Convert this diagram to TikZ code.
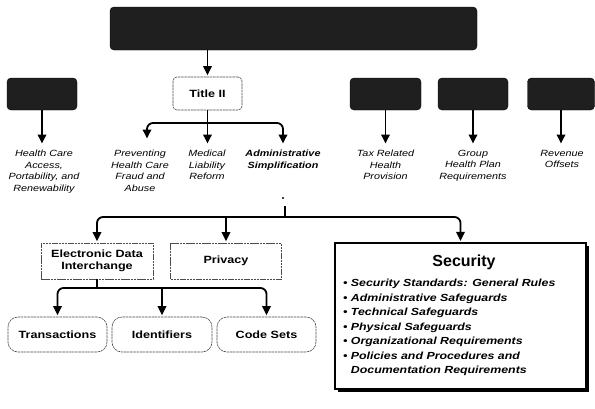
\documentclass[tikz,border=0pt]{standalone}
\usepackage{fontspec}
\setmainfont{Liberation Sans}
\newfontfamily\labfont[FakeStretch=1.2]{Liberation Sans}
\usetikzlibrary{arrows.meta}
\tikzset{
  blackbox/.style={fill=black!88, draw=black, rounded corners=4pt, inner sep=0pt},
  thinbox/.style={draw=black!70, fill=white, line width=0.6pt, dash pattern=on 2.5pt off 0.7pt,
    inner sep=0pt, align=center, font=\labfont\bfseries\fontsize{10.5}{11.5}\selectfont},
  lab/.style={font=\labfont\itshape\fontsize{9}{11.7}\selectfont, align=center,
    inner sep=0pt, outer ysep=5pt, anchor=north},
  arr/.style={line width=1.8pt, -{Triangle[width=8.5pt,length=9pt]}, rounded corners=6pt, shorten >=1.5pt},
  conn/.style={line width=1.8pt},
}
\begin{document}
\begin{tikzpicture}[x=1pt,y=-1pt]
\useasboundingbox (0,0) rectangle (595,408);
\fill[white] (0,0) rectangle (595,408);

% black boxes
\node[blackbox, minimum width=367pt, minimum height=43pt] (top) at (293.5,28.5) {};
\node[blackbox, minimum width=70pt, minimum height=32pt] (b1) at (42,94) {};
\node[blackbox, minimum width=71pt, minimum height=32pt] (b2) at (385.5,94) {};
\node[blackbox, minimum width=70pt, minimum height=32pt] (b3) at (473,94) {};
\node[blackbox, minimum width=67pt, minimum height=32pt] (b4) at (561,94) {};

% Title II
\node[thinbox, rounded corners=4pt, minimum width=69pt, minimum height=33pt] (t2) at (207.5,93.5) {Title II};

% labels
\node[lab] (l1) at (44,145) {Health Care\\Access,\\Portability, and\\Renewability};
\node[lab] (prev) at (140,145) {Preventing\\Health Care\\Fraud and\\Abuse};
\node[lab] (med) at (207,145) {Medical\\Liability\\Reform};
\node[lab, font=\labfont\bfseries\itshape\fontsize{9}{11.7}\selectfont] (adm) at (283,145) {Administrative\\Simplification};
\node[lab] (tax) at (385.5,145) {Tax Related\\Health\\Provision};
\node[lab] (grp) at (473,145) {Group\\Health Plan\\Requirements};
\node[lab] (rev) at (562,145) {Revenue\\Offsets};

% top connectors
\draw[arr] (top.south -| t2.north) -- (t2.north);
\draw[arr] (b1.south) -- (b1.south |- l1.north);
\draw[arr] (b2.south) -- (b2.south |- tax.north);
\draw[arr] (b3.south) -- (b3.south |- grp.north);
\draw[arr] (b4.south) -- (b4.south |- rev.north);

\coordinate (j1) at (207.5,123);
\coordinate (a1) at (147,140);
\draw[conn] (t2.south) -- (j1);
\draw[arr] (j1) -| (a1);
\draw[arr] (j1) -- (j1 |- med.north);
\draw[arr] (j1) -| (adm.north);

% second level boxes
\node[thinbox, minimum width=112pt, minimum height=36pt] (edi) at (97,261) {Electronic Data\\Interchange};
\node[thinbox, minimum width=111pt, minimum height=36pt] (pv) at (226,261) {Privacy};

\fill[black] (338,246) rectangle (589,392);
\node[draw, fill=white, line width=1.2pt, minimum width=251pt, minimum height=146pt, inner sep=0pt] (sec) at (460.5,316) {};
\node[font=\bfseries\fontsize{16}{18}\selectfont, inner sep=0pt] (sect) at (464,262) {Security};
\node[anchor=north west, align=left, inner sep=0pt,
  font=\labfont\bfseries\itshape\fontsize{10.3}{14.5}\selectfont] (secl) at (343,279)
  {• Security Standards: General Rules\\
   • Administrative Safeguards\\
   • Technical Safeguards\\
   • Physical Safeguards\\
   • Organizational Requirements\\
   • Policies and Procedures and\\
   \hphantom{• }Documentation Requirements};

% bottom bus
\fill (283,198) circle (1.2pt);
\coordinate (s0) at (285,206);
\coordinate (j2) at (285,217);
\draw[conn] (s0) -- (j2);
\draw[arr] (j2) -| (edi.north);
\draw[arr] (j2 -| pv.north) -- (pv.north);
\draw[arr] (j2) -| (sec.north);

% third level
\node[thinbox, rounded corners=10pt, minimum width=99pt, minimum height=35pt] (tr) at (57.5,334.5) {Transactions};
\node[thinbox, rounded corners=10pt, minimum width=100pt, minimum height=35pt] (id) at (162,334.5) {Identifiers};
\node[thinbox, rounded corners=10pt, minimum width=99pt, minimum height=35pt] (cs) at (266.5,334.5) {Code Sets};

\coordinate (j3) at (97,288);
\draw[conn] (edi.south) -- (j3);
\draw[arr] (j3) -| (tr.north);
\draw[arr] (j3 -| id.north) -- (id.north);
\draw[arr] (j3) -| (cs.north);
\end{tikzpicture}
\end{document}
